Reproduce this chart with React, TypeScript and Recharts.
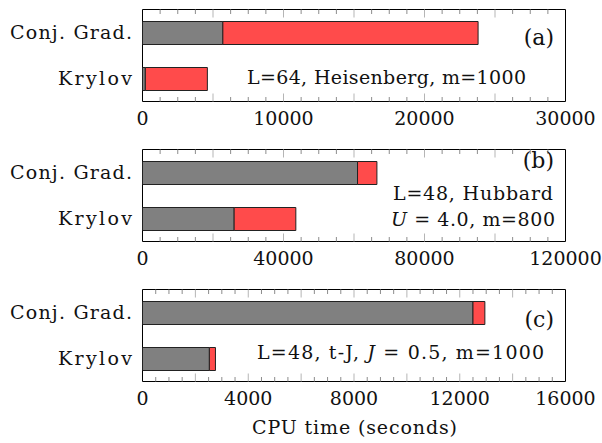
import React from "react";
import { BarChart, Bar, XAxis, YAxis, ReferenceArea } from "recharts";

const categories = ["Conj. Grad.", "Krylov"];

// gray part / red part of each bar
const heisenbergGray = [5700, 200];
const heisenbergRed = [18100, 4400];
const hubbardGray = [61000, 26000];
const hubbardRed = [5500, 17500];
const tjGray = [12500, 2530];
const tjRed = [450, 230];

const heisenbergTicks = [0, 10000, 20000, 30000];
const hubbardTicks = [0, 40000, 80000, 120000];
const tjTicks = [0, 4000, 8000, 12000, 16000];

const FONT = "DejaVu Serif";
const FS = 19;
const W = 602;
const PANEL_H = 140;
const PLOT_TOP = 9.5;
const PLOT_BOTTOM = 101.5;
const PLOT_LEFT = 142.5;
const PLOT_RIGHT = 565.5;

const labelWidths: Record<string, number> = {
  "Conj. Grad.": 122,
  Krylov: 74,
};

type PanelProps = {
  gray: number[];
  red: number[];
  labels: number[];
};

const Panel: React.FC<PanelProps> = ({ gray, red, labels }) => {
  const data = categories.map((name, i) => ({
    name,
    gray: gray[i],
    red: red[i],
  }));
  const max = labels[labels.length - 1];
  const step = (labels[1] - labels[0]) / 8;
  const majorStep = step * 4;
  const ticks: number[] = [];
  for (let v = 0; v <= max + 1e-6; v += step) ticks.push(Math.round(v));

  const xTick = (props: any) => {
    const { x, payload } = props;
    const v = payload.value;
    const major = v % majorStep === 0;
    const len = major ? 8 : 4.5;
    const color = major ? "#b5b5b5" : "#8c8c8c";
    const inner = v !== 0 && v !== max;
    return (
      <g>
        {inner && (
          <line x1={x} x2={x} y1={PLOT_BOTTOM} y2={PLOT_BOTTOM - len} stroke={color} />
        )}
        {inner && (
          <line x1={x} x2={x} y1={PLOT_TOP} y2={PLOT_TOP + len} stroke={color} />
        )}
        {labels.includes(v) && (
          <text
            x={x}
            y={PLOT_BOTTOM + 23}
            textAnchor="middle"
            style={{ fontFamily: FONT, fontSize: FS }}
            fill="#111"
          >
            {v}
          </text>
        )}
      </g>
    );
  };

  const yTick = (props: any) => {
    const { y, payload } = props;
    return (
      <text
        x={PLOT_LEFT - 10.5}
        y={y}
        dy="0.35em"
        textAnchor="end"
        style={{ fontFamily: FONT, fontSize: FS }}
        fill="#111"
        textLength={labelWidths[payload.value]}
        lengthAdjust="spacing"
      >
        {payload.value}
      </text>
    );
  };

  return (
    <BarChart
      width={W}
      height={PANEL_H}
      data={data}
      layout="vertical"
      margin={{ top: PLOT_TOP, right: W - PLOT_RIGHT, bottom: PANEL_H - PLOT_BOTTOM - 30, left: 0.5 }}
      barSize={23}
    >
      <XAxis
        type="number"
        domain={[0, max]}
        ticks={ticks}
        interval={0}
        height={30}
        axisLine={false}
        tickLine={false}
        tickSize={0}
        tickMargin={0}
        tick={xTick}
        allowDataOverflow
      />
      <YAxis
        type="category"
        dataKey="name"
        width={142}
        axisLine={false}
        tickLine={false}
        tickSize={0}
        tick={yTick}
      />
      <Bar dataKey="gray" stackId="s" fill="#808080" stroke="#222" strokeWidth={1} isAnimationActive={false} />
      <Bar dataKey="red" stackId="s" fill="#ff4b4b" stroke="#222" strokeWidth={1} isAnimationActive={false} />
      <ReferenceArea x1={0} x2={max} fill="none" fillOpacity={0} stroke="#000" strokeWidth={1} />
    </BarChart>
  );
};

const textStyle = { style: { fontFamily: FONT, fontSize: FS }, fill: "#111" };
const tagStyle = { style: { fontFamily: FONT, fontSize: 22 }, fill: "#111" };

const App: React.FC = () => {
  return (
    <div style={{ position: "absolute", left: 0, top: 0, width: W, height: 443, background: "#fff", fontFamily: FONT }}>
      <div style={{ position: "absolute", left: 0, top: 0 }}>
        <Panel gray={heisenbergGray} red={heisenbergRed} labels={heisenbergTicks} />
      </div>
      <div style={{ position: "absolute", left: 0, top: PANEL_H }}>
        <Panel gray={hubbardGray} red={hubbardRed} labels={hubbardTicks} />
      </div>
      <div style={{ position: "absolute", left: 0, top: PANEL_H * 2 }}>
        <Panel gray={tjGray} red={tjRed} labels={tjTicks} />
      </div>
      <svg
        width={W}
        height={443}
        style={{ position: "absolute", left: 0, top: 0, pointerEvents: "none" }}
      >
        <text x={554} y={45} textAnchor="end" {...tagStyle}>(a)</text>
        <text x={247} y={84} textLength={279} lengthAdjust="spacing" {...textStyle}>
          L=64, Heisenberg, m=1000
        </text>
        <text x={554} y={168} textAnchor="end" {...tagStyle}>(b)</text>
        <text x={393} y={200} textLength={160} lengthAdjust="spacing" {...textStyle}>
          L=48, Hubbard
        </text>
        <text x={391} y={226} textLength={164} lengthAdjust="spacing" {...textStyle}>
          <tspan fontStyle="italic">U</tspan> = 4.0, m=800
        </text>
        <text x={554} y={327} textAnchor="end" {...tagStyle}>(c)</text>
        <text x={257} y={359} textLength={287} lengthAdjust="spacing" {...textStyle}>
          L=48, t-J, <tspan fontStyle="italic">J</tspan> = 0.5, m=1000
        </text>
        <text x={252} y={434} textLength={205} lengthAdjust="spacing" {...textStyle}>
          CPU time (seconds)
        </text>
      </svg>
    </div>
  );
};

export default App;
